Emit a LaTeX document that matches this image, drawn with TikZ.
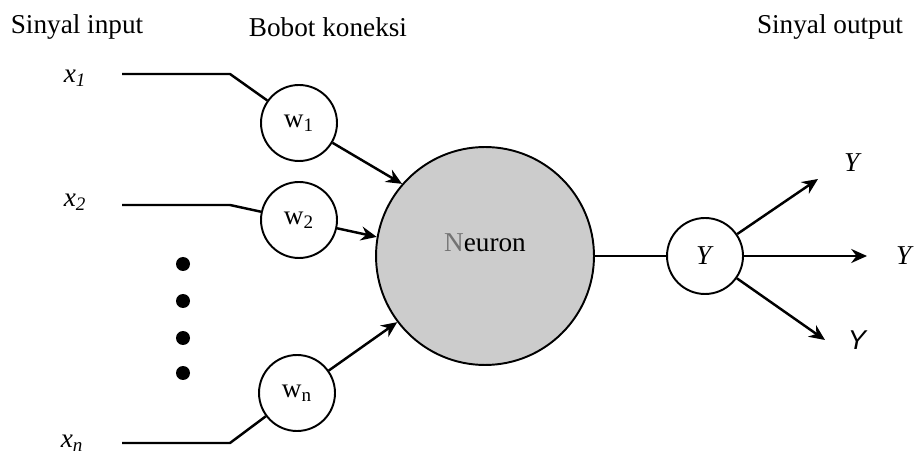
\documentclass[tikz,border=0pt]{standalone}
\usepackage{fontspec}
\setmainfont{Liberation Serif}
\newfontfamily\sansfam{Liberation Sans}
\usetikzlibrary{arrows.meta,positioning}

\begin{document}
\begin{tikzpicture}[x=0.02cm, y=-0.02cm,
    font=\fontsize{15.5}{18}\selectfont,
    weight/.style={circle, draw, line width=1.1pt, minimum size=1.52cm, inner sep=0pt},
    neuron/.style={circle, draw, line width=1.1pt, fill=black!20, minimum size=4.36cm, inner sep=0pt},
    dot/.style={circle, fill=black, minimum size=0.28cm, inner sep=0pt},
    wire/.style={line width=1.4pt},
    arrow/.style={-{Stealth[length=9pt, width=8pt, inset=3pt]}, line width=1.4pt}
]
    \useasboundingbox (0,0) rectangle (915,455);

    % Titles
    \node (tin) at (77,27) {Sinyal input};
    \node (tw) at (328,27) {Bobot koneksi};
    \node (tout) at (830,27) {Sinyal output};

    % Input signals
    \node (x1) at (75,78) {\textit{x}\textsubscript{\textit{1}}};
    \node (x2) at (75,202) {\textit{x}\textsubscript{\textit{2}}};
    \node (xn) at (72,443) {\textit{x}\textsubscript{\textit{n}}};

    % Weights
    \node[weight] (w1) at (299,123) {w\textsubscript{1}};
    \node[weight] (w2) at (299,220) {w\textsubscript{2}};
    \node[weight] (wn) at (297,393) {w\textsubscript{n}};

    % Dots
    \foreach \y [count=\i] in {264,301,338,373}
        \node[dot] (d\i) at (183,\y) {};

    % Neuron
    \node[neuron, label={[yshift=0.26cm]center:{\color{black!55}N}euron}] (neuron) at (485,256) {};

    % Output
    \node[weight] (yout) at (705,256) {\textit{Y}};

    % Input wires
    \coordinate (a1) at (122,74);  \coordinate (b1) at (230,74);
    \coordinate (a2) at (122,205); \coordinate (b2) at (230,205);
    \coordinate (an) at (122,443); \coordinate (bn) at (230,443);
    \draw[wire] (a1) -- (b1) -- (w1);
    \draw[wire] (a2) -- (b2) -- (w2);
    \draw[wire] (an) -- (bn) -- (wn);

    \draw[arrow] (w1) -- (neuron.139);
    \draw[arrow] (w2) -- (neuron.170);
    \draw[arrow] (wn) -- (neuron.217);

    \draw[wire] (neuron) -- (yout);

    % Output branches
    \coordinate (o1) at (818,179);
    \coordinate (o2) at (867,256);
    \coordinate (o3) at (825,340);
    \draw[arrow] (yout) -- (o1);
    \draw[arrow] (yout) -- (o2);
    \draw[arrow] (yout) -- (o3);

    \node (y1) at (853,163) {\textit{Y}};
    \node (y2) at (905,256) {\textit{Y}};
    \node (y3) at (857,340) {\sansfam\itshape Y};
\end{tikzpicture}
\end{document}
